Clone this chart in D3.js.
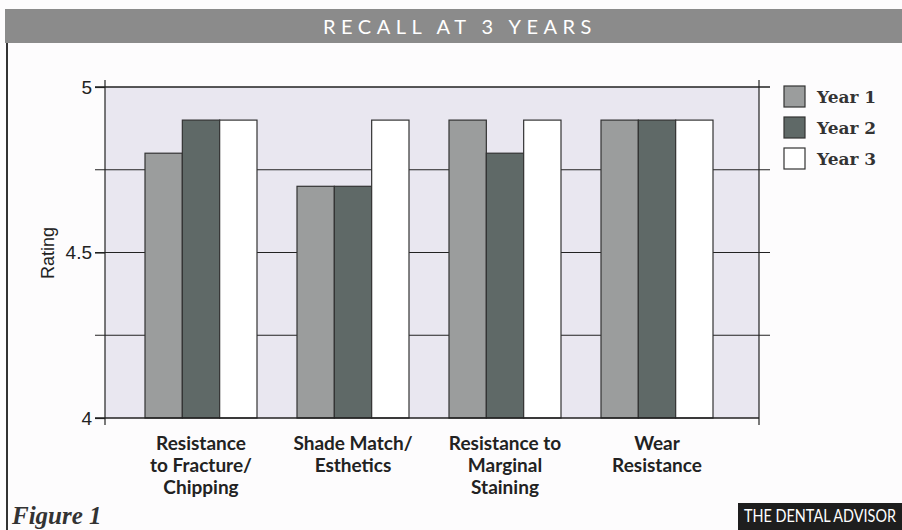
<!DOCTYPE html>
<html>
<head>
<meta charset="utf-8">
<script src="https://cdn.jsdelivr.net/npm/d3@7"></script>
<style>
  body { margin: 0; background: #fdfcfd; }
  svg { display: block; }
</style>
</head>
<body>
<svg id="chart" width="902" height="530"></svg>
<script>
// data
const categories = [
  ['Resistance', 'to Fracture/', 'Chipping'],
  ['Shade Match/', 'Esthetics'],
  ['Resistance to', 'Marginal', 'Staining'],
  ['Wear', 'Resistance']
];
const seriesNames = ['Year 1', 'Year 2', 'Year 3'];
const year1 = [4.8, 4.7, 4.9, 4.9];
const year2 = [4.9, 4.7, 4.8, 4.9];
const year3 = [4.9, 4.9, 4.9, 4.9];
const yTicks = [4, 4.25, 4.5, 4.75, 5];
const yLabels = [4, 4.5, 5];

const colors = ['#9b9d9d', '#5f6967', '#ffffff'];
const values = [year1, year2, year3];

const svg = d3.select('#chart');
const plot = { left: 105, right: 759, top: 87, bottom: 418 };

// title bar
svg.append('rect').attr('x', 5).attr('y', 9).attr('width', 897).attr('height', 34).attr('fill', '#8b8b8b');
svg.append('text').attr('x', 460).attr('y', 34).attr('text-anchor', 'middle')
  .attr('fill', '#fff').attr('font-family', 'Lato, sans-serif').attr('font-size', 20)
  .attr('letter-spacing', 5.5).text('RECALL AT 3 YEARS');

// left border
svg.append('line').attr('x1', 7).attr('x2', 7).attr('y1', 43).attr('y2', 530)
  .attr('stroke', '#333').attr('stroke-width', 2);

// scales
const y = d3.scaleLinear().domain([4, 5]).range([plot.bottom, plot.top]);
const x0 = d3.scaleBand().domain(d3.range(categories.length)).range([125, 733])
  .paddingInner(40 / 152).paddingOuter(20 / 152);
const x1 = d3.scaleBand().domain(d3.range(seriesNames.length)).range([0, x0.bandwidth()]);

// plot background
svg.append('rect').attr('x', plot.left).attr('y', plot.top)
  .attr('width', plot.right - plot.left).attr('height', plot.bottom - plot.top)
  .attr('fill', '#e9e7f0');

// grid lines (extending out as ticks)
svg.append('g').selectAll('line').data(yTicks.filter(d => d > 4)).join('line')
  .attr('x1', 95).attr('x2', 770)
  .attr('y1', d => y(d)).attr('y2', d => y(d))
  .attr('stroke', '#222').attr('stroke-width', 1.2);

// bars
const groups = svg.append('g').selectAll('g').data(categories).join('g')
  .attr('transform', (d, i) => `translate(${x0(i)},0)`);
groups.selectAll('rect').data((d, i) => values.map((s, k) => ({ k, v: s[i] }))).join('rect')
  .attr('x', d => x1(d.k)).attr('width', x1.bandwidth())
  .attr('y', d => y(d.v)).attr('height', d => y(4) - y(d.v))
  .attr('fill', d => colors[d.k]).attr('stroke', '#333').attr('stroke-width', 1.2);

// axes
const yAxis = d3.axisLeft(y).tickValues(yLabels).tickSize(10).tickPadding(3)
  .tickFormat(d3.format('~g'));
const gy = svg.append('g').attr('transform', `translate(${plot.left},0)`).call(yAxis);
gy.select('.domain').remove();
gy.selectAll('line').attr('stroke', '#222').attr('stroke-width', 1.2);
gy.selectAll('text').attr('font-family', 'Liberation Sans, Arial, sans-serif')
  .attr('font-size', 19).attr('fill', '#222');

svg.append('line').attr('x1', plot.left).attr('x2', plot.left).attr('y1', 80).attr('y2', plot.bottom)
  .attr('stroke', '#222').attr('stroke-width', 1.2);
svg.append('line').attr('x1', plot.right).attr('x2', plot.right).attr('y1', 80).attr('y2', 425)
  .attr('stroke', '#222').attr('stroke-width', 1.2);
svg.append('line').attr('x1', 770).attr('x2', 95).attr('y1', y(5)).attr('y2', y(5))
  .attr('stroke', '#222').attr('stroke-width', 1.2);
svg.append('line').attr('x1', plot.left).attr('x2', plot.left).attr('y1', plot.bottom).attr('y2', 425)
  .attr('stroke', '#222').attr('stroke-width', 1.2);
svg.append('line').attr('x1', 95).attr('x2', plot.right).attr('y1', plot.bottom).attr('y2', plot.bottom)
  .attr('stroke', '#222').attr('stroke-width', 1.5);

// y title
svg.append('text').attr('transform', 'translate(54,253) rotate(-90)').attr('text-anchor', 'middle')
  .attr('font-family', 'Liberation Sans, Arial, sans-serif').attr('font-size', 18).attr('fill', '#222')
  .text('Rating');

// category labels
const lab = svg.append('g').selectAll('text').data(categories).join('text')
  .attr('text-anchor', 'middle')
  .attr('font-family', 'Lato, sans-serif').attr('font-weight', 'bold')
  .attr('font-size', 19).attr('fill', '#222');
lab.selectAll('tspan').data((d, i) => d.map(t => ({ t, i }))).join('tspan')
  .attr('x', d => x0(d.i) + x0.bandwidth() / 2)
  .attr('y', (d, j) => 450 + j * 22)
  .text(d => d.t);

// legend
const leg = svg.append('g').selectAll('g').data(seriesNames).join('g')
  .attr('transform', (d, i) => `translate(784,${86 + i * 31})`);
leg.append('rect').attr('width', 21).attr('height', 21)
  .attr('fill', (d, i) => colors[i]).attr('stroke', '#333').attr('stroke-width', 1.2);
leg.append('text').attr('x', 33).attr('y', 17)
  .attr('font-family', 'DejaVu Serif, serif').attr('font-weight', 'bold')
  .attr('font-size', 17).attr('fill', '#333').text(d => d);

// footer
svg.append('text').attr('x', 12).attr('y', 524)
  .attr('font-family', 'Liberation Serif, serif').attr('font-style', 'italic').attr('font-weight', 'bold')
  .attr('font-size', 25).attr('fill', '#333').text('Figure 1');
svg.append('rect').attr('x', 738).attr('y', 503).attr('width', 164).attr('height', 27).attr('fill', '#1e1e1e');
svg.append('text').attr('x', 744).attr('y', 522)
  .attr('font-family', 'Lato, sans-serif').attr('font-size', 14).attr('fill', '#fff')
  .attr('textLength', 152).attr('lengthAdjust', 'spacingAndGlyphs')
  .attr('transform', 'translate(744,522) scale(1,1.2) translate(-744,-522)')
  .text('THE DENTAL ADVISOR');
</script>
</body>
</html>
